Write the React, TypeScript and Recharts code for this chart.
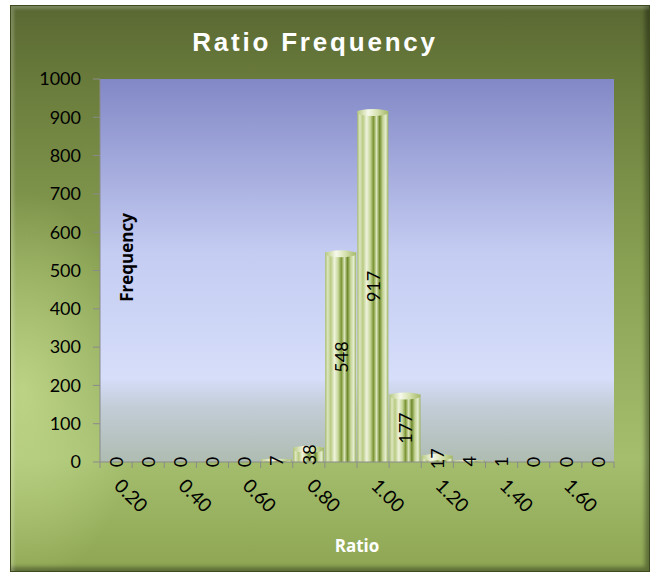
import React from 'react';
import { Bar, BarChart, CartesianGrid, LabelList, XAxis, YAxis } from 'recharts';

const ratioBins = ['0.20', '0.30', '0.40', '0.50', '0.60', '0.70', '0.80', '0.90', '1.00', '1.10', '1.20', '1.30', '1.40', '1.50', '1.60', '1.70'];
const frequencies = [0, 0, 0, 0, 0, 7, 38, 548, 917, 177, 17, 4, 1, 0, 0, 0];
const frequencyTicks = [0, 100, 200, 300, 400, 500, 600, 700, 800, 900, 1000];

const data = ratioBins.map((ratio, i) => ({ ratio, frequency: frequencies[i] }));

const FONT = 'Lato, "Open Sans", sans-serif';

/** Category tick: boundary tick marks on every bin, rotated label on every other one. */
function RatioTick(props: any) {
  const { x, y, payload, index } = props;
  const half = payload?.offset || 16;
  const last = index === ratioBins.length - 1;
  return (
    <g>
      <line x1={x - half} y1={y} x2={x - half} y2={y + 6} stroke="#8a8a8a" />
      {last && <line x1={x + half} y1={y} x2={x + half} y2={y + 6} stroke="#8a8a8a" />}
      {index % 2 === 0 && (
        <text
          transform={`translate(${x - 3},${y + 25}) rotate(45)`}
          textAnchor="start"
          fontFamily={FONT}
          fontSize={19}
          fill="#000"
        >
          {payload.value}
        </text>
      )}
    </g>
  );
}

/** Cylinder-ish bar: shaded body plus an elliptical cap. */
function CylinderBar(props: any) {
  const { x, y, width, height } = props;
  if (!height || height <= 0) return null;
  const ry = Math.min(3.5, height / 2);
  return (
    <g>
      <rect x={x} y={y} width={width} height={height} fill="url(#barBody)" />
      <ellipse cx={x + width / 2} cy={y + ry / 2} rx={width / 2} ry={ry} fill="url(#barCap)" />
    </g>
  );
}

function ValueLabel(props: any) {
  const { x, y, width, height, value } = props;
  const cx = x + width / 2;
  const cy = y + height / 2;
  return (
    <text
      x={cx}
      y={cy}
      transform={`rotate(-90, ${cx}, ${cy})`}
      textAnchor="middle"
      dominantBaseline="central"
      fontFamily={FONT}
      fontSize={18}
      fill="#000"
    >
      {value}
    </text>
  );
}

function FrequencyLabel(props: any) {
  const vb = props.viewBox || { x: 30, y: 74, width: 60, height: 383 };
  const lx = vb.x + vb.width + 26;
  const ly = vb.y + vb.height / 2 - 13;
  return (
    <text
      x={lx}
      y={ly}
      transform={`rotate(-90, ${lx}, ${ly})`}
      textAnchor="middle"
      dominantBaseline="central"
      fontFamily='"Open Sans", sans-serif'
      fontWeight={700}
      fontSize={17}
      fill="#000"
    >
      Frequency
    </text>
  );
}

export default function App() {
  return (
    <div
      style={{
        position: 'absolute',
        left: 10,
        top: 5,
        width: 640,
        height: 567,
        background:
          'radial-gradient(ellipse 18% 35% at 2% 68%, rgba(215,235,160,0.55), rgba(215,235,160,0) 100%), linear-gradient(to bottom, #596832 0%, #6a7c3c 14%, #88a052 45%, #a4be6e 80%, #8ea653 100%)',
        boxShadow:
          'inset 0 0 0 1px #3d4a1e, inset 4px 4px 3px rgba(255,255,255,0.2), inset -5px -5px 4px rgba(0,0,0,0.35)',
      }}
    >
      <div
        style={{
          position: 'absolute',
          left: 0,
          width: 610,
          top: 22,
          textAlign: 'center',
          color: '#fff',
          fontFamily: '"Liberation Sans", Arial, sans-serif',
          fontWeight: 700,
          fontSize: 26,
          letterSpacing: 2.8,
        }}
      >
        Ratio Frequency
      </div>
      <BarChart
        width={640}
        height={567}
        data={data}
        margin={{ top: 74, right: 36, bottom: 10, left: 30 }}
        barCategoryGap="1%"
        style={{ position: 'absolute', left: 0, top: 0 }}
      >
        <defs>
          <linearGradient id="plotBg" x1="0" y1="0" x2="0" y2="1">
            <stop offset="0%" stopColor="#8288c6" />
            <stop offset="45%" stopColor="#c4ccf2" />
            <stop offset="78%" stopColor="#d6defa" />
            <stop offset="86%" stopColor="#c2ccd6" />
            <stop offset="100%" stopColor="#aebcb2" />
          </linearGradient>
          <linearGradient id="barBody" x1="0" y1="0" x2="1" y2="0">
            <stop offset="0%" stopColor="#a9bd6a" />
            <stop offset="8%" stopColor="#dce6c0" />
            <stop offset="18%" stopColor="#b9cb82" />
            <stop offset="30%" stopColor="#eef3dc" />
            <stop offset="42%" stopColor="#c6d698" />
            <stop offset="52%" stopColor="#7c9534" />
            <stop offset="62%" stopColor="#dbe6bc" />
            <stop offset="72%" stopColor="#6f8a2a" />
            <stop offset="82%" stopColor="#c4d494" />
            <stop offset="92%" stopColor="#e6eed2" />
            <stop offset="100%" stopColor="#98ae58" />
          </linearGradient>
          <linearGradient id="barCap" x1="0" y1="0" x2="1" y2="0">
            <stop offset="0%" stopColor="#b6c87e" />
            <stop offset="35%" stopColor="#f6f9ea" />
            <stop offset="65%" stopColor="#d6e2b0" />
            <stop offset="100%" stopColor="#a4b866" />
          </linearGradient>
        </defs>
        <CartesianGrid horizontal={false} vertical={false} fill="url(#plotBg)" stroke="none" />
        <XAxis
          dataKey="ratio"
          interval={0}
          height={100}
          tickSize={0}
          tickMargin={0}
          tickLine={false}
          axisLine={{ stroke: '#8a8a8a' }}
          tick={<RatioTick />}
          label={{
            value: 'Ratio',
            position: 'insideBottom',
            offset: 10,
            fill: '#fff',
            fontFamily: '"Open Sans", sans-serif',
            fontWeight: 700,
            fontSize: 17,
          }}
        />
        <YAxis
          width={60}
          domain={[0, 1000]}
          ticks={frequencyTicks}
          interval={0}
          tickSize={7}
          tickMargin={12}
          tickLine={{ stroke: '#8a8a8a' }}
          axisLine={{ stroke: '#8a8a8a' }}
          tick={{ fill: '#000', fontFamily: FONT, fontSize: 18 }}
          label={<FrequencyLabel />}
        />
        <Bar dataKey="frequency" shape={<CylinderBar />} isAnimationActive={false}>
          <LabelList dataKey="frequency" content={<ValueLabel />} />
        </Bar>
      </BarChart>
    </div>
  );
}
